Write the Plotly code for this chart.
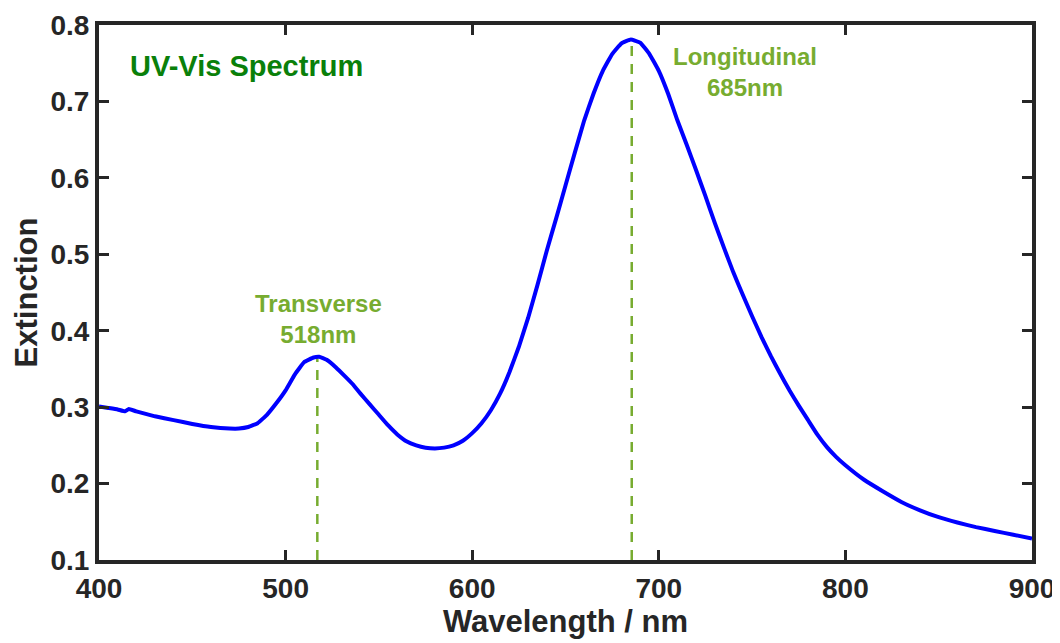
import plotly.graph_objects as go

# ---- data ----
wavelength = [400, 405, 410, 414, 416, 420, 430, 440, 450, 460, 470, 475, 480, 485, 490, 495,
              500, 505, 510, 515, 518, 522, 527, 532, 536, 540, 545, 550, 555, 560, 565, 570,
              575, 580, 585, 590, 595, 600, 605, 610, 615, 620, 625, 630, 635, 640, 645, 650,
              655, 660, 665, 670, 675, 680, 685, 690, 695, 700, 705, 710, 715, 720, 725, 730,
              735, 740, 745, 750, 755, 760, 765, 770, 775, 780, 785, 790, 795, 800, 810, 820,
              830, 840, 850, 860, 870, 880, 890, 900]
extinction = [0.301, 0.299, 0.297, 0.2945, 0.2975, 0.2945, 0.288, 0.283, 0.278, 0.274, 0.272, 0.272,
              0.274, 0.279, 0.290, 0.305, 0.322, 0.343, 0.359, 0.365, 0.366, 0.362, 0.352, 0.340,
              0.330, 0.318, 0.304, 0.290, 0.276, 0.264, 0.255, 0.250, 0.247, 0.246, 0.247, 0.250,
              0.256, 0.266, 0.279, 0.296, 0.318, 0.346, 0.379, 0.417, 0.460, 0.505, 0.547, 0.590,
              0.633, 0.675, 0.710, 0.740, 0.762, 0.776, 0.781, 0.777, 0.762, 0.740, 0.710, 0.675,
              0.643, 0.610, 0.576, 0.541, 0.508, 0.476, 0.447, 0.419, 0.392, 0.367, 0.344, 0.322,
              0.302, 0.283, 0.264, 0.248, 0.235, 0.224, 0.205, 0.190, 0.176, 0.165, 0.156, 0.149,
              0.143, 0.138, 0.133, 0.128]

peak_positions = [517, 685.5]
peak_heights = [0.365, 0.780]
peak_labels = ["Transverse<br>518nm", "Longitudinal<br>685nm"]
peak_label_x = [517.4, 746]
peak_label_y = [0.415, 0.7385]

x_ticks = [400, 500, 600, 700, 800, 900]
y_ticks = [0.1, 0.2, 0.3, 0.4, 0.5, 0.6, 0.7, 0.8]

AX = "#262626"
GREEN_LIGHT = "#77ac30"
GREEN_DARK = "#0a800a"
FONT = "Liberation Sans, Arial, sans-serif"

fig = go.Figure()

for px, ph in zip(peak_positions, peak_heights):
    fig.add_trace(go.Scatter(x=[px, px], y=[0.1, ph], mode="lines",
                             line=dict(color=GREEN_LIGHT, width=2.5, dash="10px,8px"),
                             showlegend=False, hoverinfo="skip"))

fig.add_trace(go.Scatter(x=wavelength, y=extinction, mode="lines",
                         line=dict(color="#0000ff", width=4, shape="spline", smoothing=0.3),
                         showlegend=False))

for lx, ly, txt in zip(peak_label_x, peak_label_y, peak_labels):
    fig.add_annotation(x=lx, y=ly, text=txt, showarrow=False, xanchor="center", yanchor="middle",
                       font=dict(family=FONT, size=24, color=GREEN_LIGHT, weight="bold"))

fig.add_annotation(x=415.5, y=0.746, text="UV-Vis Spectrum", showarrow=False,
                   xanchor="left", yanchor="middle",
                   font=dict(family=FONT, size=29, color=GREEN_DARK, weight="bold"))

axis_common = dict(showline=True, linecolor=AX, linewidth=4, mirror="ticks",
                   ticks="inside", ticklen=10, tickwidth=3, tickcolor=AX,
                   showgrid=False, zeroline=False, automargin=False,
                   tickfont=dict(family=FONT, size=28, color=AX, weight="bold"))

fig.update_xaxes(range=[400, 900], tickvals=x_ticks, ticktext=[str(v) for v in x_ticks],
                 title=dict(text="Wavelength / nm", standoff=6,
                            font=dict(family=FONT, size=31, color=AX, weight="bold")),
                 **axis_common)
fig.update_yaxes(range=[0.1, 0.8], tickvals=y_ticks, ticktext=[f"{v:.1f}" for v in y_ticks],
                 title=dict(text="Extinction", standoff=5,
                            font=dict(family=FONT, size=31, color=AX, weight="bold")),
                 **axis_common)

# page body has an 8px margin, so the figure is sized/offset to compensate
fig.update_layout(width=1052, height=635, margin=dict(l=91, r=28, t=17, b=83),
                  plot_bgcolor="white", paper_bgcolor="white", showlegend=False)

fig.write_html("out.html")
